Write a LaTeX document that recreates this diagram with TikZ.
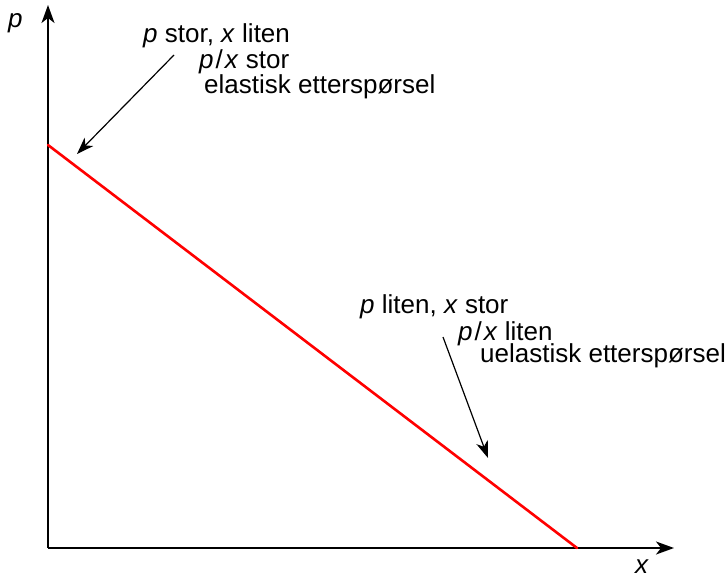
\documentclass[tikz,border=0pt]{standalone}
\usepackage{fontspec}
\setmainfont{Liberation Sans}
\usetikzlibrary{arrows.meta}
\begin{document}
\begin{tikzpicture}[x=1pt,y=-1pt,
  lbl/.style={anchor=base west,inner sep=0pt,font=\fontsize{26}{26}\selectfont},
  axis/.style={line width=1.7pt,-{Stealth[length=18pt,width=13pt,inset=5pt]}},
  note/.style={line width=1.2pt,-{Stealth[length=17pt,width=12pt,inset=5pt]}},
  demand/.style={line width=2.6pt,red,line cap=round}]
\useasboundingbox (0,0) rectangle (728,578);
\coordinate (O) at (48,548);
\coordinate (ytop) at (48,5);
\coordinate (xend) at (674,548);
\coordinate (dA) at (48,145);
\coordinate (dB) at (577,548);
\draw[axis] (O) -- (ytop);
\draw[axis] (O) -- (xend);
\draw[demand] (dA) -- (dB);
\node[lbl] (plab) at (8,28) {\textit{p}};
\node[lbl] (xlab) at (635,573) {\textit{x}};
\node[lbl] (a1) at (143,43) {\textit{p} stor, \textit{x} liten};
\node[lbl] (a2) at (199,68) {\textit{p}\kern2pt/\kern2pt\textit{x} stor};
\node[lbl] (a3) at (204,93) {elastisk etterspørsel};
\node[lbl] (b1) at (360,313) {\textit{p} liten, \textit{x} stor};
\node[lbl] (b2) at (458,340) {\textit{p}\kern2pt/\kern2pt\textit{x} liten};
\node[lbl] (b3) at (480,362) {uelastisk etterspørsel};
\coordinate (s1) at (174,55);
\coordinate (t1) at (77,154);
\coordinate (s2) at (443,337);
\coordinate (t2) at (488,458);
\draw[note] (s1) -- (t1);
\draw[note] (s2) -- (t2);
\end{tikzpicture}
\end{document}
